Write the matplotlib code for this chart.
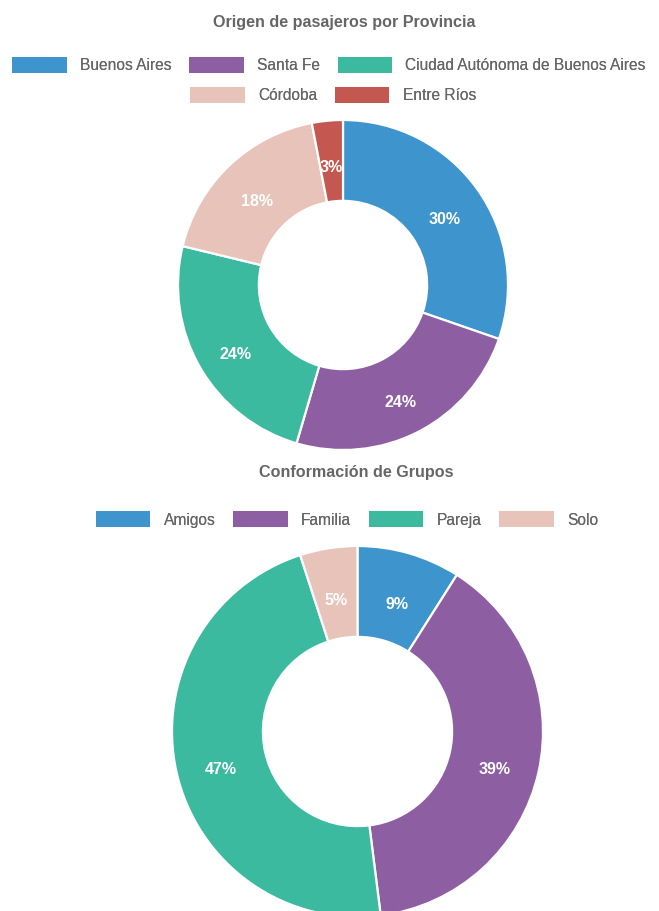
import matplotlib.pyplot as plt
from matplotlib.patches import Patch
from matplotlib.transforms import ScaledTranslation

provincias = ['Buenos Aires', 'Santa Fe', 'Ciudad Autónoma de Buenos Aires',
              'Córdoba', 'Entre Ríos']
provincias_pct = [30, 24, 24, 18, 3]

grupos = ['Amigos', 'Familia', 'Pareja', 'Solo']
grupos_pct = [9, 39, 47, 5]

colors = ['#3e95cd', '#8e5ea2', '#3cba9f', '#e8c3b9', '#c45850']

W, H = 659, 911
plt.rcParams['font.family'] = ['Liberation Sans', 'DejaVu Sans']
TXT = '#666666'


def donut(fig, cx, cy, r, values, cols):
    # axes box in pixels, converted to figure fractions
    ax = fig.add_axes([(cx - r) / W, 1 - (cy + r) / H, 2 * r / W, 2 * r / H])
    wedges, _, autotexts = ax.pie(
        values, colors=cols, startangle=90, counterclock=False,
        autopct='%1.0f%%', pctdistance=0.755,
        wedgeprops=dict(width=0.49, edgecolor='white', linewidth=1.6),
        textprops=dict(color='white', fontsize=11.5, fontweight='bold'))
    ax.set_xlim(-1, 1)
    ax.set_ylim(-1, 1)
    shift = ScaledTranslation(0, -7 / 100, fig.dpi_scale_trans)
    for t in autotexts:
        t.set_transform(ax.transData + shift)
    return ax


def legend_row(fig, labels, cols, x, y):
    handles = [Patch(facecolor=c, edgecolor='none') for c in cols]
    leg = fig.legend(handles, labels, loc='center',
                     bbox_to_anchor=(x / W, 1 - y / H), ncol=len(labels),
                     frameon=False, fontsize=11.2, labelcolor=TXT,
                     handlelength=3.5, handleheight=1.2, handletextpad=0.85,
                     columnspacing=1.15, borderpad=0, borderaxespad=0)
    fig.add_artist(leg)


fig = plt.figure(figsize=(W / 100, H / 100), dpi=100)

# top chart
fig.text(344 / W, 1 - 22 / H, 'Origen de pasajeros por Provincia',
         ha='center', va='center', fontsize=11.6, fontweight='bold', color=TXT)
legend_row(fig, provincias[:3], colors[:3], 329, 65)
legend_row(fig, provincias[3:], colors[3:5], 333, 95)
donut(fig, 343, 285, 165, provincias_pct, colors)

# bottom chart
fig.text(356.5 / W, 1 - 473 / H, 'Conformación de Grupos',
         ha='center', va='center', fontsize=11.6, fontweight='bold', color=TXT)
legend_row(fig, grupos, colors[:4], 347, 519.5)
donut(fig, 357.5, 731.5, 185.5, grupos_pct, colors[:4])

fig.savefig('out.png', dpi=100)
